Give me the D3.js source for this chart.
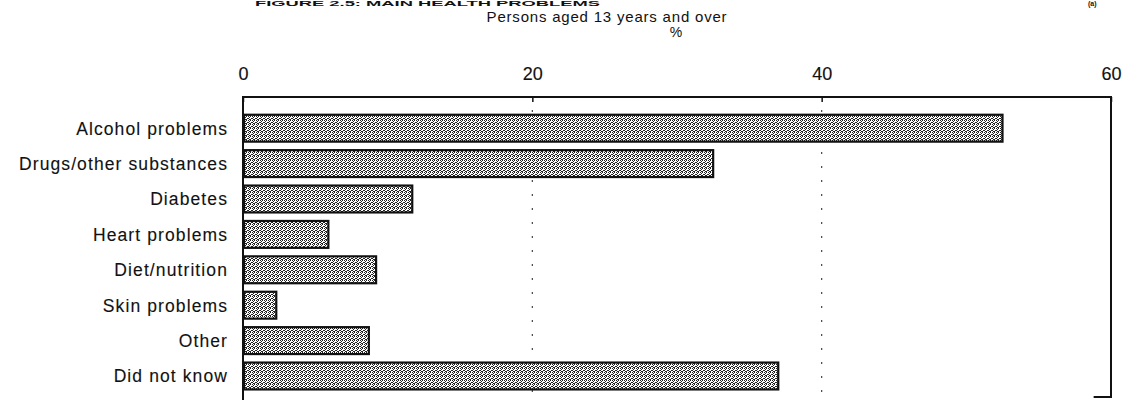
<!DOCTYPE html>
<html>
<head>
<meta charset="utf-8">
<script src="https://cdn.jsdelivr.net/npm/d3@7"></script>
<style>
  body { margin: 0; background: #fff; }
  svg text { font-family: "Liberation Sans", Arial, Helvetica, sans-serif; fill: #111; }
</style>
</head>
<body>
<div id="chart"></div>
<script>
const width = 1122;
const height = 401;

const categories = ["Alcohol problems", "Drugs/other substances", "Diabetes", "Heart problems",
    "Diet/nutrition", "Skin problems", "Other", "Did not know"];
const values = [52.5, 32.5, 11.7, 5.9, 9.2, 2.3, 8.7, 37.0];
const tickValues = [0, 20, 40, 60];

const x = d3.scaleLinear()
    .domain([0, 60])
    .range([243, 1111]);

const y = d3.scaleBand()
    .domain(categories)
    .range([110.5, 393.7])
    .paddingInner(0.24)
    .paddingOuter(0.12);

const svg = d3.select("#chart")
    .append("svg")
    .attr("width", width)
    .attr("height", height);

// dithered grey fill, like the scanned halftone
const pat = svg.append("defs").append("pattern")
    .attr("id", "dither")
    .attr("patternUnits", "userSpaceOnUse")
    .attr("width", 4)
    .attr("height", 4);
pat.append("rect").attr("width", 4).attr("height", 4).attr("fill", "#fff");
[[0, 0], [2, 0], [1, 1], [3, 2], [0, 2], [2, 3], [1, 3]].forEach(([px, py]) => {
    pat.append("rect")
        .attr("x", px).attr("y", py)
        .attr("width", 1).attr("height", 1)
        .attr("fill", "#222")
        .attr("shape-rendering", "crispEdges");
});

// title strip (only a sliver shows at the top of the scan)
svg.append("text")
    .attr("x", 255)
    .attr("y", 6)
    .attr("font-size", 7)
    .attr("font-weight", "bold")
    .attr("textLength", 345)
    .attr("lengthAdjust", "spacingAndGlyphs")
    .text("FIGURE 2.5: MAIN HEALTH PROBLEMS");
svg.append("text")
    .attr("x", 1088)
    .attr("y", 6)
    .attr("font-size", 7)
    .attr("font-weight", "bold")
    .text("(a)");

svg.append("text")
    .attr("x", 607)
    .attr("y", 22)
    .attr("text-anchor", "middle")
    .attr("font-size", 15)
    .attr("letter-spacing", "0.8px")
    .text("Persons aged 13 years and over");

svg.append("text")
    .attr("x", 676)
    .attr("y", 37)
    .attr("text-anchor", "middle")
    .attr("font-size", 14)
    .text("%");

// dotted reference lines
svg.append("g")
    .selectAll("line")
    .data([20, 40])
    .join("line")
    .attr("x1", d => x(d))
    .attr("x2", d => x(d))
    .attr("y1", 110)
    .attr("y2", 398)
    .attr("stroke", "#444")
    .attr("stroke-width", 1.2)
    .attr("stroke-dasharray", "2,12");

// top axis
const axis = svg.append("g")
    .attr("transform", "translate(0,97)")
    .call(d3.axisTop(x)
        .tickValues(tickValues)
        .tickSize(-5)
        .tickPadding(17));
axis.select(".domain").remove();
axis.selectAll(".tick line").attr("stroke", "#111").attr("stroke-width", 1.5);
axis.selectAll(".tick text")
    .attr("font-size", 18)
    .attr("fill", "#111")
    .attr("stroke", "#111")
    .attr("stroke-width", 0.15)
    .attr("font-family", "Liberation Sans, Arial, sans-serif");

// frame
const frame = svg.append("g")
    .attr("stroke", "#111")
    .attr("fill", "none");
frame.append("path")
    .attr("stroke-width", 2)
    .attr("d", `M${x(0)},400 V97 H${x(60)} V397 H${x(58.8)}`);

// bars
svg.append("g")
    .selectAll("rect")
    .data(values)
    .join("rect")
    .attr("x", x(0) + 1)
    .attr("y", (d, i) => y(categories[i]))
    .attr("width", d => x(d) - x(0) - 1)
    .attr("height", y.bandwidth())
    .attr("fill", "url(#dither)")
    .attr("stroke", "#111")
    .attr("stroke-width", 2.2);

// category labels
svg.append("g")
    .selectAll("text")
    .data(categories)
    .join("text")
    .attr("x", 228)
    .attr("y", d => y(d) + y.bandwidth() / 2)
    .attr("dy", "0.36em")
    .attr("text-anchor", "end")
    .attr("font-size", 17.5)
    .attr("letter-spacing", "1.1px")
    .attr("stroke", "#111")
    .attr("stroke-width", 0.12)
    .text(d => d);
</script>
</body>
</html>
